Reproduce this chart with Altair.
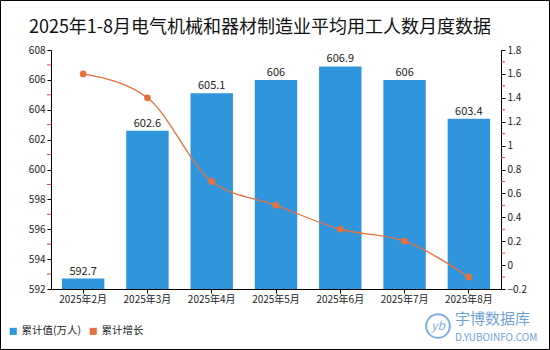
import altair as alt
import pandas as pd

# ---- data ----
months = ["2025年2月", "2025年3月", "2025年4月", "2025年5月", "2025年6月", "2025年7月", "2025年8月"]
values = [592.7, 602.6, 605.1, 606, 606.9, 606, 603.4]
growth = [1.6, 1.4, 0.7, 0.5, 0.3, 0.2, -0.1]
left_ticks = [592, 594, 596, 598, 600, 602, 604, 606, 608]
left_minor = [593, 595, 597, 599, 601, 603, 605, 607]
right_ticks = [-0.2, 0, 0.2, 0.4, 0.6, 0.8, 1, 1.2, 1.4, 1.6, 1.8]
right_minor = [-0.1, 0.1, 0.3, 0.5, 0.7, 0.9, 1.1, 1.3, 1.5, 1.7]
series_names = ["累计值(万人)", "累计增长"]
title_text = "2025年1-8月电气机械和器材制造业平均用工人数月度数据"

BLUE = "#2F96DE"
ORANGE = "#E8703A"
RED = "#E0413A"
FONT = "Noto Sans CJK SC"
W, H = 450, 239

df = pd.DataFrame({"month": months, "value": values, "growth": growth,
                   "series": [series_names[0]] * len(months)})
dl_minor = pd.DataFrame({"v": left_minor})
dr_minor = pd.DataFrame({"v": right_minor})

xenc = alt.X(
    "month:N", sort=months, title=None,
    scale=alt.Scale(paddingInner=0.34, paddingOuter=0.17),
    axis=alt.Axis(labelAngle=0, domainColor="black", tickColor="black", tickSize=4,
                  labelFontSize=10, labelColor="#222", labelFont=FONT, labelPadding=1,
                  domainWidth=1, labelOverlap=False),
)
yl_scale = alt.Scale(domain=[592, 608], zero=False, nice=False)
yr_scale = alt.Scale(domain=[-0.2, 1.8], zero=False, nice=False)

left_axis = alt.Axis(values=left_ticks, format="d", domainColor="black", tickColor="black",
                     tickSize=4, labelFontSize=10, labelColor="#222", labelFont=FONT,
                     grid=False, labelPadding=2, orient="left", labelOverlap=False)
right_axis = alt.Axis(orient="right", values=right_ticks, format="~g", domainColor="black",
                      tickColor="black", tickSize=4, labelFontSize=10, labelColor="#222",
                      labelFont=FONT, grid=False, labelPadding=2, labelOverlap=False)

bars = alt.Chart(df).mark_bar(color=BLUE, clip=True).encode(
    x=xenc,
    y=alt.Y("value:Q", scale=yl_scale, title=None, axis=left_axis),
    color=alt.Color(
        "series:N",
        scale=alt.Scale(domain=series_names, range=[BLUE, ORANGE]),
        legend=alt.Legend(title=None, orient="none", legendX=-43, legendY=276, direction="horizontal",
                          symbolType="square", symbolSize=50, labelFontSize=10.5, labelFont=FONT,
                          labelColor="#222", columnPadding=6, labelOffset=3, symbolStrokeWidth=0),
    ),
)
bar_text = alt.Chart(df).mark_text(dy=-7, fontSize=11, font=FONT, color="#222").encode(
    x=alt.X("month:N", sort=months, title=None),
    y=alt.Y("value:Q", scale=yl_scale, title=None, axis=left_axis),
    text=alt.Text("value:Q"),
)
lminor = alt.Chart(dl_minor).mark_rule(color=RED).encode(
    y=alt.Y("v:Q", scale=yl_scale, title=None, axis=left_axis),
    x=alt.value(-4), x2=alt.value(0),
)

line = alt.Chart(df).mark_line(color=ORANGE, interpolate="monotone", strokeWidth=1.3).encode(
    x=alt.X("month:N", sort=months, title=None),
    y=alt.Y("growth:Q", scale=yr_scale, title=None, axis=right_axis),
)
pts = alt.Chart(df).mark_point(color=ORANGE, filled=True, opacity=1, size=45).encode(
    x=alt.X("month:N", sort=months, title=None),
    y=alt.Y("growth:Q", scale=yr_scale, title=None, axis=right_axis),
)
rminor = alt.Chart(dr_minor).mark_rule(color=RED).encode(
    y=alt.Y("v:Q", scale=yr_scale, title=None, axis=right_axis),
    x=alt.value(W), x2=alt.value(W + 4),
)

one = alt.Data(values=[{"a": 1}])
border = alt.Chart(one).mark_rect(fillOpacity=0, stroke="black", strokeWidth=1).encode(
    x=alt.value(-50.5), x2=alt.value(550 - 51 - 0.5), y=alt.value(-49.5), y2=alt.value(350 - 50 - 0.5)
)
title = alt.Chart(one).mark_text(text=title_text, fontSize=18, font=FONT, color="#111",
                                 baseline="alphabetic").encode(
    x=alt.value(209), y=alt.value(-17)
)
wm_circle = alt.Chart(one).mark_point(shape="circle", size=560, color="#7FAEDB", strokeWidth=2, opacity=1).encode(
    x=alt.value(387), y=alt.value(276)
)
wm_logo = alt.Chart(one).mark_text(text="yb", fontSize=12, fontStyle="italic", font=FONT, color="#7FAEDB").encode(
    x=alt.value(387), y=alt.value(276)
)
wm_cn = alt.Chart(one).mark_text(text="宇博数据库", fontSize=15, font=FONT, color="#6FA3D6", align="left").encode(
    x=alt.value(404), y=alt.value(269)
)
wm_en = alt.Chart(one).mark_text(text="D.YUBOINFO.COM", fontSize=10, font=FONT, color="#6FA3D6", align="left").encode(
    x=alt.value(404), y=alt.value(288)
)

left = alt.layer(bars, bar_text, lminor)
right = alt.layer(line, pts, rminor)

chart = alt.layer(left, right, border, title, wm_circle, wm_logo, wm_cn, wm_en).resolve_scale(
    y="independent"
).properties(
    width=W, height=H,
    padding={"left": 51, "top": 50, "right": 49, "bottom": 61},
    autosize=alt.AutoSizeParams(type="none"),
    background="white",
).configure_view(stroke=None).configure_axis(labelOverlap=False)

chart.save("out.html", embed_options={"renderer": "svg", "actions": False})
